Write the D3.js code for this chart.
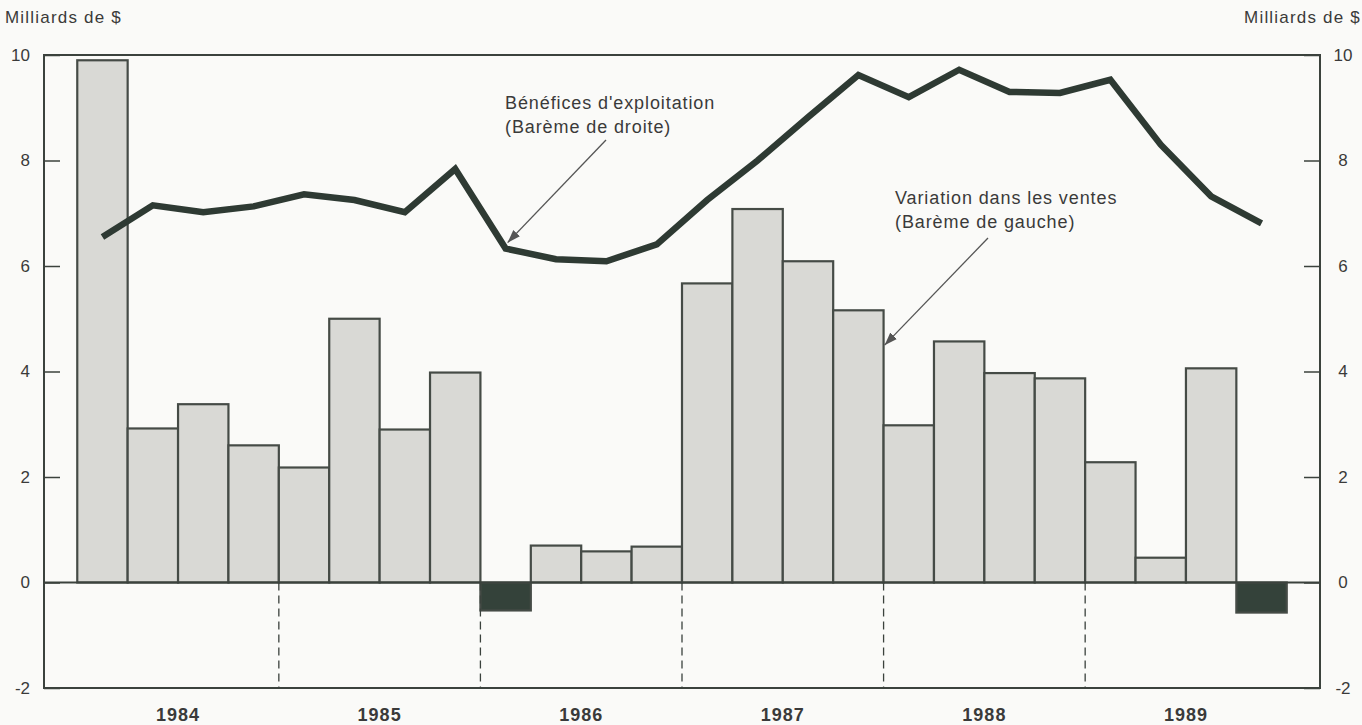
<!DOCTYPE html>
<html>
<head>
<meta charset="utf-8">
<script src="https://cdn.jsdelivr.net/npm/d3@7"></script>
<style>
  body { margin: 0; background: #fafaf8; }
  svg { display: block; font-family: "Liberation Sans", Arial, sans-serif; }
</style>
</head>
<body>
<div id="chart"></div>
<script>
// Data
const years = ["1984", "1985", "1986", "1987", "1988", "1989"];
const quarters = years.flatMap(y => ["T1", "T2", "T3", "T4"].map(q => y + q));
// Variation dans les ventes (barème de gauche), milliards de $
const salesChange = [9.9, 2.92, 3.38, 2.6, 2.18, 5.0, 2.9, 3.98,
                     -0.53, 0.7, 0.59, 0.68, 5.67, 7.08, 6.09, 5.16,
                     2.98, 4.57, 3.97, 3.87, 2.28, 0.47, 4.06, -0.57];
// Bénéfices d'exploitation (barème de droite), milliards de $
const profits = [6.55, 7.15, 7.02, 7.13, 7.36, 7.25, 7.02, 7.84,
                 6.33, 6.13, 6.09, 6.41, 7.25, 8.0, 8.82, 9.62,
                 9.2, 9.72, 9.3, 9.28, 9.53, 8.3, 7.32, 6.81];
const yTicks = [-2, 0, 2, 4, 6, 8, 10];

const W = 1362, H = 725;
const margin = { top: 55, right: 42, bottom: 37, left: 44 };

const svg = d3.select("#chart").append("svg")
  .attr("width", W).attr("height", H);

svg.append("rect").attr("width", W).attr("height", H).attr("fill", "#fafaf8");

// Scales
const x = d3.scaleBand()
  .domain(quarters)
  .range([margin.left, W - margin.right])
  .paddingInner(0)
  .paddingOuter(0.66);

const yL = d3.scaleLinear().domain([-2, 10]).range([H - margin.bottom, margin.top]);
const yR = d3.scaleLinear().domain([-2, 10]).range([H - margin.bottom, margin.top]);

const ink = "#3b423d";
const textCol = "#3a3a3a";

// Bars
svg.selectAll(".bar")
  .data(salesChange)
  .enter().append("rect")
  .attr("class", "bar")
  .attr("x", (d, i) => x(quarters[i]))
  .attr("y", d => yL(Math.max(0, d)))
  .attr("width", x.bandwidth())
  .attr("height", d => Math.abs(yL(d) - yL(0)))
  .attr("fill", d => d < 0 ? "#34423a" : "#d9d9d5")
  .attr("stroke", "#454b46")
  .attr("stroke-width", 2.2);

// Zero line
svg.append("line")
  .attr("x1", margin.left).attr("x2", W - margin.right)
  .attr("y1", yL(0)).attr("y2", yL(0))
  .attr("stroke", ink).attr("stroke-width", 2);

// Year separators (dashed below zero)
svg.selectAll(".sep")
  .data(years.slice(1))
  .enter().append("line")
  .attr("class", "sep")
  .attr("x1", d => x(d + "T1")).attr("x2", d => x(d + "T1"))
  .attr("y1", yL(0)).attr("y2", yL(-2))
  .attr("stroke", ink).attr("stroke-width", 1.3)
  .attr("stroke-dasharray", "8,5");

// Frame
svg.append("rect")
  .attr("x", margin.left).attr("y", margin.top)
  .attr("width", W - margin.left - margin.right)
  .attr("height", H - margin.top - margin.bottom)
  .attr("fill", "none").attr("stroke", ink).attr("stroke-width", 2);

// Axes: ticks pointing inward
const leftAxis = svg.append("g")
  .attr("transform", `translate(${margin.left},0)`)
  .call(d3.axisRight(yL).tickValues(yTicks).tickSize(16).tickFormat(""));
const rightAxis = svg.append("g")
  .attr("transform", `translate(${W - margin.right},0)`)
  .call(d3.axisLeft(yR).tickValues(yTicks).tickSize(16).tickFormat(""));
[leftAxis, rightAxis].forEach(g => {
  g.select(".domain").remove();
  g.selectAll(".tick line").attr("stroke", ink).attr("stroke-width", 1.5);
});

// Tick labels
svg.selectAll(".ylab-l")
  .data(yTicks)
  .enter().append("text")
  .attr("x", 30).attr("y", d => yL(d))
  .attr("dy", "0.35em")
  .attr("text-anchor", "end")
  .attr("font-size", 17)
  .attr("fill", textCol)
  .text(d => d);

svg.selectAll(".ylab-r")
  .data(yTicks)
  .enter().append("text")
  .attr("x", 1343).attr("y", d => yR(d))
  .attr("dy", "0.35em")
  .attr("text-anchor", "middle")
  .attr("font-size", 17)
  .attr("fill", textCol)
  .text(d => d);

// Unit labels
svg.append("text")
  .attr("x", 5).attr("y", 23)
  .attr("font-size", 17).attr("letter-spacing", 1.2).attr("fill", textCol)
  .text("Milliards de $");
svg.append("text")
  .attr("x", W - 1).attr("y", 23)
  .attr("text-anchor", "end")
  .attr("font-size", 17).attr("letter-spacing", 1.2).attr("fill", textCol)
  .text("Milliards de $");

// Year labels
svg.selectAll(".year")
  .data(years)
  .enter().append("text")
  .attr("x", d => (x(d + "T1") + x(d + "T4") + x.bandwidth()) / 2)
  .attr("y", 721)
  .attr("text-anchor", "middle")
  .attr("font-size", 18).attr("font-weight", "bold").attr("letter-spacing", 1)
  .attr("fill", textCol)
  .text(d => d);

// Profit line
const line = d3.line()
  .x((d, i) => x(quarters[i]) + x.bandwidth() / 2)
  .y(d => yR(d));

svg.append("path")
  .datum(profits)
  .attr("d", line)
  .attr("fill", "none")
  .attr("stroke", "#2e3a33")
  .attr("stroke-width", 6.5)
  .attr("stroke-linejoin", "miter");

// Annotations
svg.append("defs").append("marker")
  .attr("id", "arrow")
  .attr("viewBox", "0 0 10 10")
  .attr("refX", 10).attr("refY", 5)
  .attr("markerWidth", 10).attr("markerHeight", 10)
  .attr("orient", "auto")
  .append("path")
  .attr("d", "M0,1.5 L10,5 L0,8.5 Z")
  .attr("fill", "#555");

function note(lines, tx, ty, ax, ay, bx, by) {
  const t = svg.append("text")
    .attr("x", tx).attr("y", ty)
    .attr("font-size", 18).attr("letter-spacing", 0.9)
    .attr("fill", textCol);
  lines.forEach((s, k) => t.append("tspan").attr("x", tx).attr("dy", k ? 24 : 0).text(s));
  svg.append("line")
    .attr("x1", ax).attr("y1", ay).attr("x2", bx).attr("y2", by)
    .attr("stroke", "#555").attr("stroke-width", 1.3)
    .attr("marker-end", "url(#arrow)");
}

const p9x = x(quarters[8]) + x.bandwidth() / 2;
note(["Bénéfices d'exploitation", "(Barème de droite)"],
     505, 109, 606, 140, p9x + 2, yR(profits[8]) - 6);

const b16x = x(quarters[15]) + x.bandwidth();
note(["Variation dans les ventes", "(Barème de gauche)"],
     895, 204, 988, 238, b16x + 1, yL(4.5));
</script>
</body>
</html>
